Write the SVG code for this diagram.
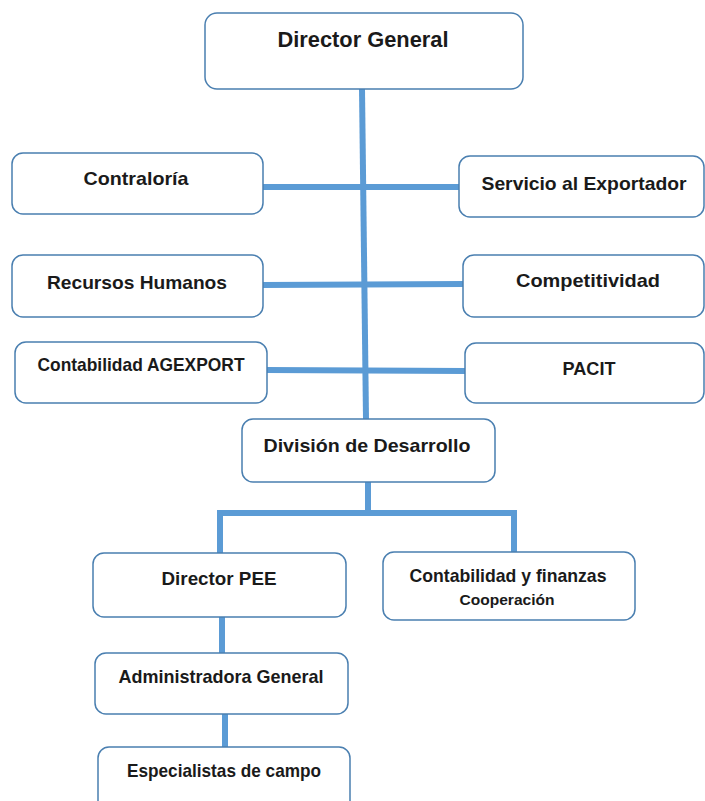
<svg xmlns="http://www.w3.org/2000/svg" width="705" height="801" viewBox="0 0 705 801">
  <style>
    .box { fill: #ffffff; stroke: #4a7fb0; stroke-width: 1.5; }
    .lbl { font-family: "Liberation Sans", Arial, sans-serif; font-weight: bold; font-size: 19px; fill: #1a1a1a; text-anchor: middle; }
    .big { font-size: 22px; }
    .small { font-size: 15px; }
    .link { fill: none; stroke: #5b9bd5; stroke-width: 6; stroke-linecap: butt; stroke-linejoin: miter; }
  </style>
  <rect width="705" height="801" fill="#ffffff"/>

  <!-- connectors -->
  <g id="connectors">
    <line class="link" x1="362" y1="89" x2="366" y2="419"/>
    <line class="link" x1="263" y1="187" x2="459" y2="187"/>
    <line class="link" x1="263" y1="285" x2="463" y2="284"/>
    <line class="link" x1="267" y1="370" x2="465" y2="371"/>
    <line class="link" x1="368" y1="482" x2="368" y2="513"/>
    <polyline class="link" points="220,553 220,513 514,513 514,552"/>
    <line class="link" x1="222" y1="617" x2="222" y2="653"/>
    <line class="link" x1="225" y1="714" x2="225" y2="747"/>
  </g>

  <!-- nodes -->
  <g id="director-general">
    <rect class="box" x="205" y="13" width="318" height="76" rx="12"/>
    <text class="lbl big" x="363" y="47" textLength="171" lengthAdjust="spacingAndGlyphs">Director General</text>
  </g>
  <g id="contraloria">
    <rect class="box" x="12" y="153" width="251" height="61" rx="11"/>
    <text class="lbl" x="136" y="185" textLength="105" lengthAdjust="spacingAndGlyphs">Contraloría</text>
  </g>
  <g id="servicio-exportador">
    <rect class="box" x="459" y="156" width="245" height="61" rx="11"/>
    <text class="lbl" x="584" y="190" textLength="205" lengthAdjust="spacingAndGlyphs">Servicio al Exportador</text>
  </g>
  <g id="recursos-humanos">
    <rect class="box" x="12" y="255" width="251" height="62" rx="11"/>
    <text class="lbl" x="137" y="289" textLength="180" lengthAdjust="spacingAndGlyphs">Recursos Humanos</text>
  </g>
  <g id="competitividad">
    <rect class="box" x="463" y="255" width="241" height="62" rx="11"/>
    <text class="lbl" x="588" y="287" textLength="144" lengthAdjust="spacingAndGlyphs">Competitividad</text>
  </g>
  <g id="contabilidad-agexport">
    <rect class="box" x="15" y="342" width="252" height="61" rx="11"/>
    <text class="lbl" x="141" y="371" textLength="207" lengthAdjust="spacingAndGlyphs">Contabilidad AGEXPORT</text>
  </g>
  <g id="pacit">
    <rect class="box" x="465" y="343" width="239" height="60" rx="11"/>
    <text class="lbl" x="589" y="375" textLength="53" lengthAdjust="spacingAndGlyphs">PACIT</text>
  </g>
  <g id="division-desarrollo">
    <rect class="box" x="242" y="419" width="253" height="63" rx="11"/>
    <text class="lbl" x="367" y="452" textLength="207" lengthAdjust="spacingAndGlyphs">División de Desarrollo</text>
  </g>
  <g id="director-pee">
    <rect class="box" x="93" y="553" width="253" height="64" rx="11"/>
    <text class="lbl" x="219" y="585" textLength="115" lengthAdjust="spacingAndGlyphs">Director PEE</text>
  </g>
  <g id="contabilidad-finanzas">
    <rect class="box" x="383" y="552" width="252" height="68" rx="11"/>
    <text class="lbl" x="508" y="582" textLength="197" lengthAdjust="spacingAndGlyphs">Contabilidad y finanzas</text>
    <text class="lbl small" x="507" y="605" textLength="95" lengthAdjust="spacingAndGlyphs">Cooperación</text>
  </g>
  <g id="administradora-general">
    <rect class="box" x="95" y="653" width="253" height="61" rx="11"/>
    <text class="lbl" x="221" y="683" textLength="205" lengthAdjust="spacingAndGlyphs">Administradora General</text>
  </g>
  <g id="especialistas-campo">
    <rect class="box" x="98" y="747" width="252" height="70" rx="11"/>
    <text class="lbl" x="224" y="777" textLength="194" lengthAdjust="spacingAndGlyphs">Especialistas de campo</text>
  </g>
</svg>
